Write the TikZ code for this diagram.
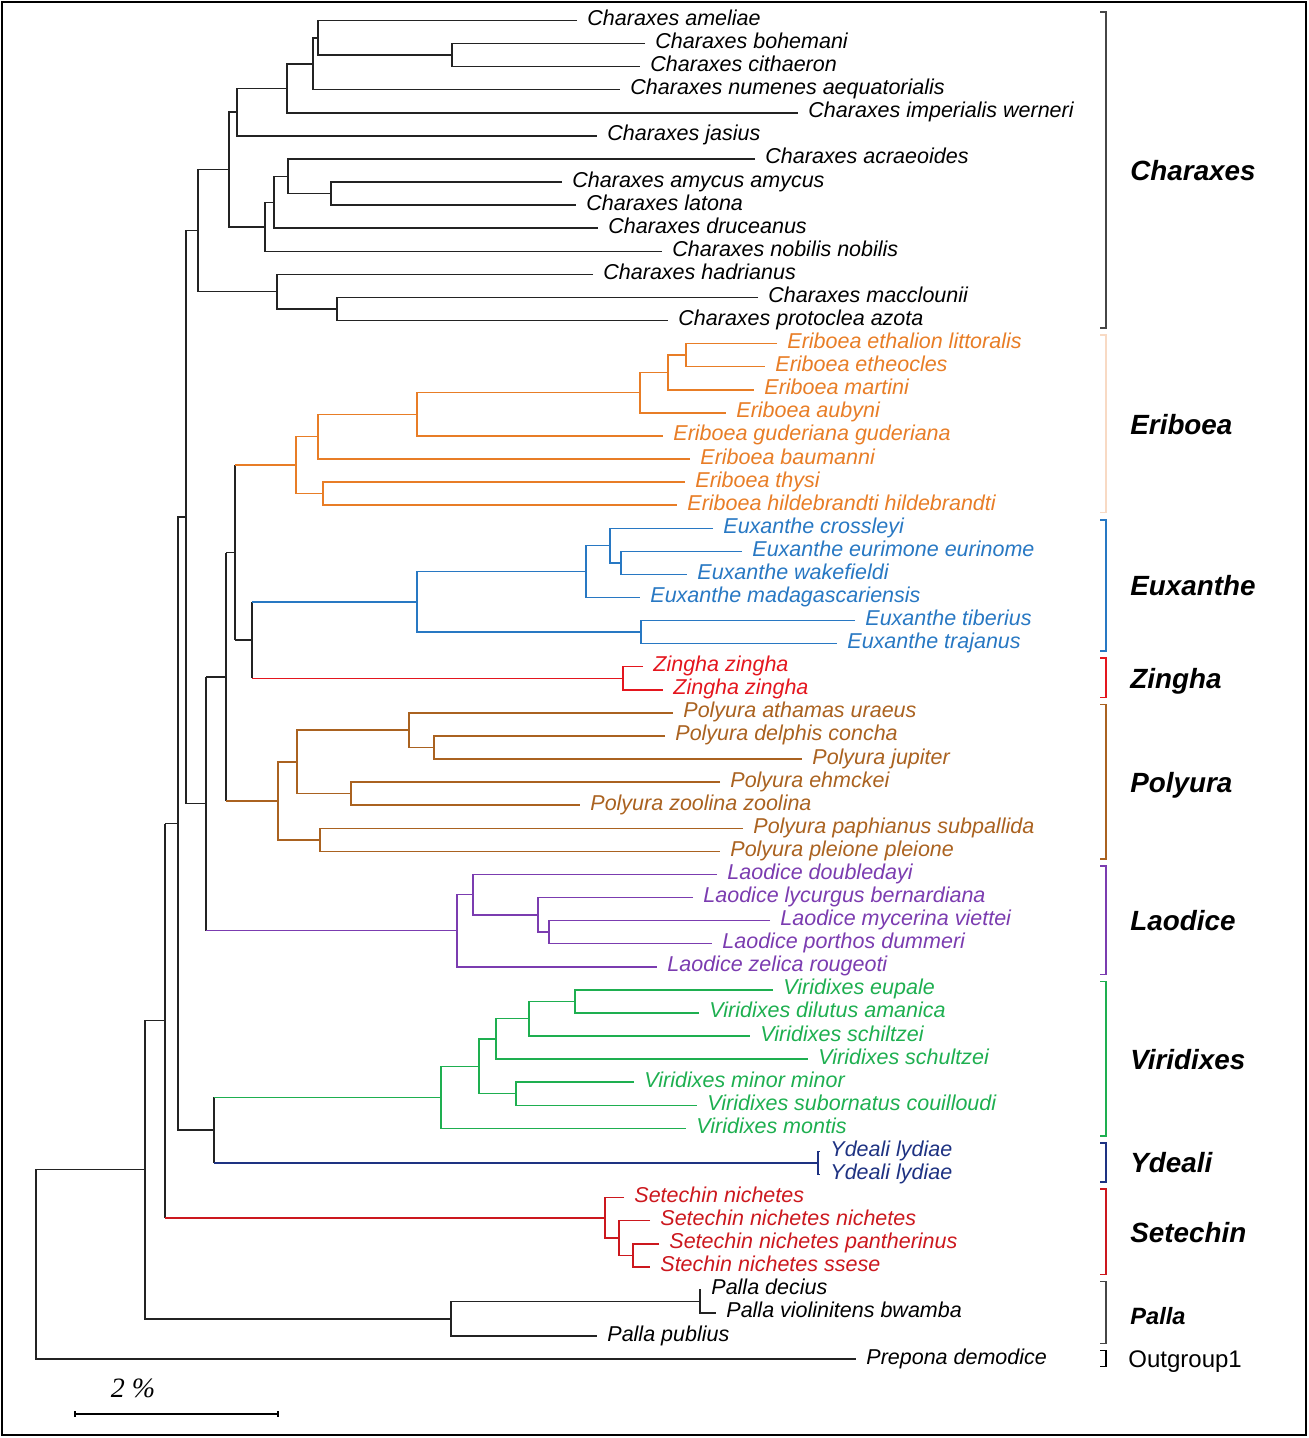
\documentclass[tikz,border=0pt]{standalone}
\usepackage{fontspec}
\setmainfont{Liberation Sans}
\newfontfamily\barfont{Liberation Serif}
\definecolor{charcol}{RGB}{35,35,35}
\definecolor{charbr}{RGB}{70,70,70}
\definecolor{eribcol}{RGB}{232,125,38}
\definecolor{eribbr}{RGB}{248,218,196}
\definecolor{euxcol}{RGB}{40,120,195}
\definecolor{zingcol}{RGB}{228,22,30}
\definecolor{polycol}{RGB}{170,98,32}
\definecolor{laodcol}{RGB}{123,60,176}
\definecolor{viricol}{RGB}{30,175,80}
\definecolor{ydeacol}{RGB}{30,50,130}
\definecolor{setecol}{RGB}{204,24,30}
% row -> y in px
\newcommand{\ry}[1]{20.5+(#1-1)*23.08}
\tikzset{
  leaf/.style={anchor=west,inner xsep=5pt,inner ysep=0pt,text height=7.5pt,text depth=2.5pt,
    font=\fontsize{10.75}{12}\selectfont\itshape},
  branch/.style={line width=0.75pt},
  grp/.style={anchor=west,inner sep=0pt,text height=10pt,text depth=0pt,
    font=\fontsize{13.9}{16}\selectfont\bfseries\itshape},
}
\begin{document}
\begin{tikzpicture}[x=0.5pt,y=-0.5pt]
  \useasboundingbox (0,0) rectangle (1309,1438);
  \draw[line width=1.2pt] (2,2) rectangle (1306,1435);

  % leaves
  \foreach \r/\x/\t in {1/577/Charaxes ameliae, 2/645/Charaxes bohemani, 3/640/Charaxes cithaeron,
      4/620/Charaxes numenes aequatorialis, 5/798/Charaxes imperialis werneri, 6/597/Charaxes jasius,
      7/755/Charaxes acraeoides, 8/562/Charaxes amycus amycus, 9/576/Charaxes latona,
      10/598/Charaxes druceanus, 11/662/Charaxes nobilis nobilis, 12/593/Charaxes hadrianus,
      13/758/Charaxes macclounii, 14/668/Charaxes protoclea azota,
      56/701/Palla decius, 57/716/Palla violinitens bwamba, 58/597/Palla publius,
      59/856/Prepona demodice} {
    \coordinate (t\r) at (\x,{\ry{\r}});
    \node[leaf] (l\r) at (t\r) {\t};
  }
  \foreach \r/\x/\t in {15/777/Eriboea ethalion littoralis, 16/765/Eriboea etheocles, 17/754/Eriboea martini,
      18/726/Eriboea aubyni, 19/663/Eriboea guderiana guderiana, 20/690/Eriboea baumanni,
      21/685/Eriboea thysi, 22/677/Eriboea hildebrandti hildebrandti} {
    \coordinate (t\r) at (\x,{\ry{\r}});
    \node[leaf,text=eribcol] (l\r) at (t\r) {\t};
  }
  \foreach \r/\x/\t in {23/713/Euxanthe crossleyi, 24/742/Euxanthe eurimone eurinome, 25/687/Euxanthe wakefieldi,
      26/640/Euxanthe madagascariensis, 27/855/Euxanthe tiberius, 28/837/Euxanthe trajanus} {
    \coordinate (t\r) at (\x,{\ry{\r}});
    \node[leaf,text=euxcol] (l\r) at (t\r) {\t};
  }
  \foreach \r/\x/\t in {29/643/Zingha zingha, 30/663/Zingha zingha} {
    \coordinate (t\r) at (\x,{\ry{\r}});
    \node[leaf,text=zingcol] (l\r) at (t\r) {\t};
  }
  \foreach \r/\x/\t in {31/673/Polyura athamas uraeus, 32/665/Polyura delphis concha, 33/802/Polyura jupiter,
      34/720/Polyura ehmckei, 35/580/Polyura zoolina zoolina, 36/743/Polyura paphianus subpallida,
      37/720/Polyura pleione pleione} {
    \coordinate (t\r) at (\x,{\ry{\r}});
    \node[leaf,text=polycol] (l\r) at (t\r) {\t};
  }
  \foreach \r/\x/\t in {38/717/Laodice doubledayi, 39/693/Laodice lycurgus bernardiana,
      40/770/Laodice mycerina viettei, 41/712/Laodice porthos dummeri, 42/657/Laodice zelica rougeoti} {
    \coordinate (t\r) at (\x,{\ry{\r}});
    \node[leaf,text=laodcol] (l\r) at (t\r) {\t};
  }
  \foreach \r/\x/\t in {43/773/Viridixes eupale, 44/699/Viridixes dilutus amanica, 45/750/Viridixes schiltzei,
      46/808/Viridixes schultzei, 47/634/Viridixes minor minor, 48/697/Viridixes subornatus couilloudi,
      49/686/Viridixes montis} {
    \coordinate (t\r) at (\x,{\ry{\r}});
    \node[leaf,text=viricol] (l\r) at (t\r) {\t};
  }
  \foreach \r/\x/\t in {50/820/Ydeali lydiae, 51/820/Ydeali lydiae} {
    \coordinate (t\r) at (\x,{\ry{\r}});
    \node[leaf,text=ydeacol] (l\r) at (t\r) {\t};
  }
  \foreach \r/\x/\t in {52/624/Setechin nichetes, 53/650/Setechin nichetes nichetes,
      54/659/Setechin nichetes pantherinus, 55/650/Stechin nichetes ssese} {
    \coordinate (t\r) at (\x,{\ry{\r}});
    \node[leaf,text=setecol] (l\r) at (t\r) {\t};
  }

  % inner nodes (x, row)
  \foreach \n/\x/\r in {a23/452/2.5, a1/318/1.75, a4/313/2.875, a5/287/3.9375, a6/237/4.96875,
      b89/331/8.5, b7/288/7.75, b10/274/8.875, b11/265/9.9375, ab/229/7.4531,
      c1314/337/13.5, c12/277/12.75, ch/198/10.1016,
      e1516/686/15.5, e17/668/16.25, e18/640/17.125, e19/417/18.0625, e20/318/19.0313,
      e2122/323/21.5, er/296/20.2656,
      x2425/621/24.5, x23/610/23.75, x26/586/24.875, x2728/641/27.5, xr/417/26.1875,
      z/623/29.5, xz/252/27.8438, L/235/24.0547,
      p3233/434/32.5, p31/409/31.75, p3435/351/34.5, p34/297/33.125, p3637/320/36.5,
      pr/278/34.8125, M/226/29.4336,
      l4041/549/40.5, l39/538/39.75, l38/473/38.875, lr/457/40.4375, N/206/34.9355, K/186/22.5186,
      v4344/575/43.5, v45/529/44.25, v46/496/45.125, v4748/516/47.5, v47/479/46.3125,
      vr/441/47.6563, y5051/818/50.5, vy/214/49.0781, O/178/35.7983,
      s5455/633/54.5, s53/619/53.75, sr/605/52.875, P/165/44.3367,
      pa5657/700/56.5, pa/451/57.25, Q/145/50.7933, root/36/54.8967} {
    \coordinate (\n) at (\x,{\ry{\r}});
  }

  % branches
  \foreach \n/\a/\b in {a23/t2/t3, a1/t1/a23, a4/a1/t4, a5/a4/t5, a6/a5/t6, b89/t8/t9, b7/t7/b89,
      b10/b7/t10, b11/b10/t11, ab/a6/b11, c1314/t13/t14, c12/t12/c1314, ch/ab/c12,
      K/ch/N, O/K/vy, Q/P/pa, root/Q/t59, pa5657/t56/t57, pa/pa5657/t58}
    \draw[branch,charcol] (\a) -| (\n) |- (\b);
  \foreach \n/\a/\b in {e1516/t15/t16, e17/e1516/t17, e18/e17/t18, e19/e18/t19, e20/e19/t20,
      e2122/t21/t22, er/e20/e2122}
    \draw[branch,eribcol] (\a) -| (\n) |- (\b);
  \foreach \n/\a/\b in {x2425/t24/t25, x23/t23/x2425, x26/x23/t26, x2728/t27/t28, xr/x26/x2728}
    \draw[branch,euxcol] (\a) -| (\n) |- (\b);
  \draw[branch,zingcol] (t29) -| (z) |- (t30);
  \foreach \n/\a/\b in {p3233/t32/t33, p31/t31/p3233, p3435/t34/t35, p34/p31/p3435,
      p3637/t36/t37, pr/p34/p3637}
    \draw[branch,polycol] (\a) -| (\n) |- (\b);
  \foreach \n/\a/\b in {l4041/t40/t41, l39/t39/l4041, l38/t38/l39, lr/l38/t42}
    \draw[branch,laodcol] (\a) -| (\n) |- (\b);
  \foreach \n/\a/\b in {v4344/t43/t44, v45/v4344/t45, v46/v45/t46, v4748/t47/t48,
      v47/v46/v4748, vr/v47/t49}
    \draw[branch,viricol] (\a) -| (\n) |- (\b);
  \draw[branch,ydeacol] (t50) -| (y5051) |- (t51);
  \foreach \n/\a/\b in {s5455/t54/t55, s53/t53/s5455, sr/t52/s53}
    \draw[branch,setecol] (\a) -| (\n) |- (\b);
  % black joints with coloured stems
  \foreach \n/\a/\ca/\b/\cb in {L/er/eribcol/xz/charcol, xz/xr/euxcol/z/zingcol,
      M/L/charcol/pr/polycol, N/M/charcol/lr/laodcol, vy/vr/viricol/y5051/ydeacol,
      P/O/charcol/sr/setecol} {
    \draw[branch,charcol] (\n |- \a) -- (\n |- \b);
    \draw[branch,\ca] (\n |- \a) -- (\a);
    \draw[branch,\cb] (\n |- \b) -- (\b);
  }

  % clade brackets
  \foreach \a/\b/\c/\g in {1/14/charbr/Charaxes, 15/22/eribbr/Eriboea, 23/28/euxcol/Euxanthe,
      29/30/zingcol/Zingha, 31/37/polycol/Polyura, 38/42/laodcol/Laodice,
      43/49/viricol/Viridixes, 50/51/ydeacol/Ydeali, 52/55/setecol/Setechin} {
    \draw[branch,\c] (1100,{\ry{\a}-8.5}) -- (1106,{\ry{\a}-8.5}) -- (1106,{\ry{\b}+7.5}) -- (1100,{\ry{\b}+7.5});
    \node[grp] (g\a) at (1130,{(\ry{\a}+\ry{\b})/2}) {\g};
  }
  \draw[branch,charbr] (1100,{\ry{56}-8.5}) -- (1106,{\ry{56}-8.5}) -- (1106,{\ry{58}+7.5}) -- (1100,{\ry{58}+7.5});
  \node[grp,font=\fontsize{11.8}{14}\selectfont\bfseries\itshape] (g56) at (1130,{\ry{57}+2}) {Palla};
  \draw[branch,black] (1100,{\ry{59}-8.5}) -- (1106,{\ry{59}-8.5}) -- (1106,{\ry{59}+7.5}) -- (1100,{\ry{59}+7.5});
  \node[anchor=west,inner sep=0pt,font=\fontsize{12}{14}\selectfont] (g59) at (1128,1362) {Outgroup1};

  % scale bar
  \coordinate (s0) at (75,1414);
  \coordinate (s1) at (278,1414);
  \draw[branch] (s0) -- (s1);
  \draw[branch] ([yshift=1.5pt]s0) -- ([yshift=-1.5pt]s0);
  \draw[branch] ([yshift=1.5pt]s1) -- ([yshift=-1.5pt]s1);
  \node[font=\barfont\itshape\fontsize{14}{16}\selectfont] (scl) at (133,1388) {2 \%};
\end{tikzpicture}
\end{document}
